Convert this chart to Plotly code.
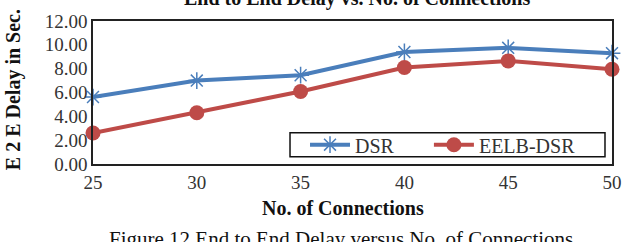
import plotly.graph_objects as go

connections = [25, 30, 35, 40, 45, 50]
dsr = [5.62, 7.0, 7.45, 9.4, 9.75, 9.3]
eelb_dsr = [2.6, 4.3, 6.08, 8.1, 8.65, 7.95]
y_ticks = [0, 2, 4, 6, 8, 10, 12]
y_tick_labels = [f"{v:.2f}" for v in y_ticks]
series_names = ["DSR", "EELB-DSR"]

FONT = "Liberation Serif, Times New Roman, serif"
BLUE = "#4A7EBB"
RED = "#BE4B48"
PAD = "\u00a0" * 6

fig = go.Figure()
fig.add_trace(go.Scatter(
    x=connections, y=dsr, name=series_names[0] + PAD, mode="lines+markers",
    line=dict(color=BLUE, width=4),
    marker=dict(symbol="asterisk-open", size=14, line=dict(color=BLUE, width=1.5)),
    cliponaxis=False,
))
fig.add_trace(go.Scatter(
    x=connections, y=eelb_dsr, name=series_names[1], mode="lines+markers",
    line=dict(color=RED, width=4),
    marker=dict(symbol="circle", size=15, color=RED),
    cliponaxis=False,
))

fig.update_layout(
    width=624, height=242,
    margin=dict(l=93, r=12, t=21, b=78, autoexpand=False),
    paper_bgcolor="white", plot_bgcolor="white",
    font=dict(family=FONT, size=17, color="#222"),
    showlegend=True,
    legend=dict(
        orientation="h", x=0.4085, y=0.135, xanchor="left", yanchor="middle",
        borderwidth=0, bgcolor="rgba(0,0,0,0)",
        font=dict(family=FONT, size=20, color="#333"),
        itemwidth=40, tracegroupgap=0,
    ),
    shapes=[dict(type="rect", xref="paper", yref="paper",
                 x0=0.3796, x1=0.9865, y0=0.051, y1=0.219,
                 line=dict(color="#111", width=1.5), fillcolor="white", layer="below")],
    xaxis=dict(
        range=[25, 50], tickvals=connections, ticks="", showgrid=False,
        showline=True, linecolor="#222", linewidth=1.5, mirror=True,
        zeroline=False, automargin=False,
        tickfont=dict(family=FONT, size=19, color="#333"),
    ),
    yaxis=dict(
        range=[0, 12], tickvals=y_ticks, ticktext=y_tick_labels, ticks="",
        showgrid=False, showline=True, linecolor="#222", linewidth=1.5,
        mirror=True, zeroline=False, automargin=False,
        tickfont=dict(family=FONT, size=19, color="#333"),
    ),
    annotations=[
        dict(text="<b>End to End Delay vs. No. of Connections</b>", xref="paper", yref="paper",
             x=0.509, y=1.155, xanchor="center", yanchor="middle", showarrow=False,
             font=dict(family=FONT, size=20, color="#111")),
        dict(text="<b>No. of Connections</b>", xref="paper", yref="paper",
             x=0.482, y=-0.31, xanchor="center", yanchor="middle", showarrow=False,
             font=dict(family=FONT, size=20, color="#111")),
        dict(text="<b>E 2 E Delay in Sec.</b>", xref="paper", yref="paper",
             x=-0.154, y=0.517, xanchor="center", yanchor="middle", showarrow=False,
             textangle=-90, font=dict(family=FONT, size=20, color="#111")),
        dict(text="Figure 12 End to End Delay versus No. of Connections", xref="paper", yref="paper",
             x=0.478, y=-0.525, xanchor="center", yanchor="middle", showarrow=False,
             font=dict(family=FONT, size=21, color="#111")),
    ],
)

fig.write_html("out.html")
